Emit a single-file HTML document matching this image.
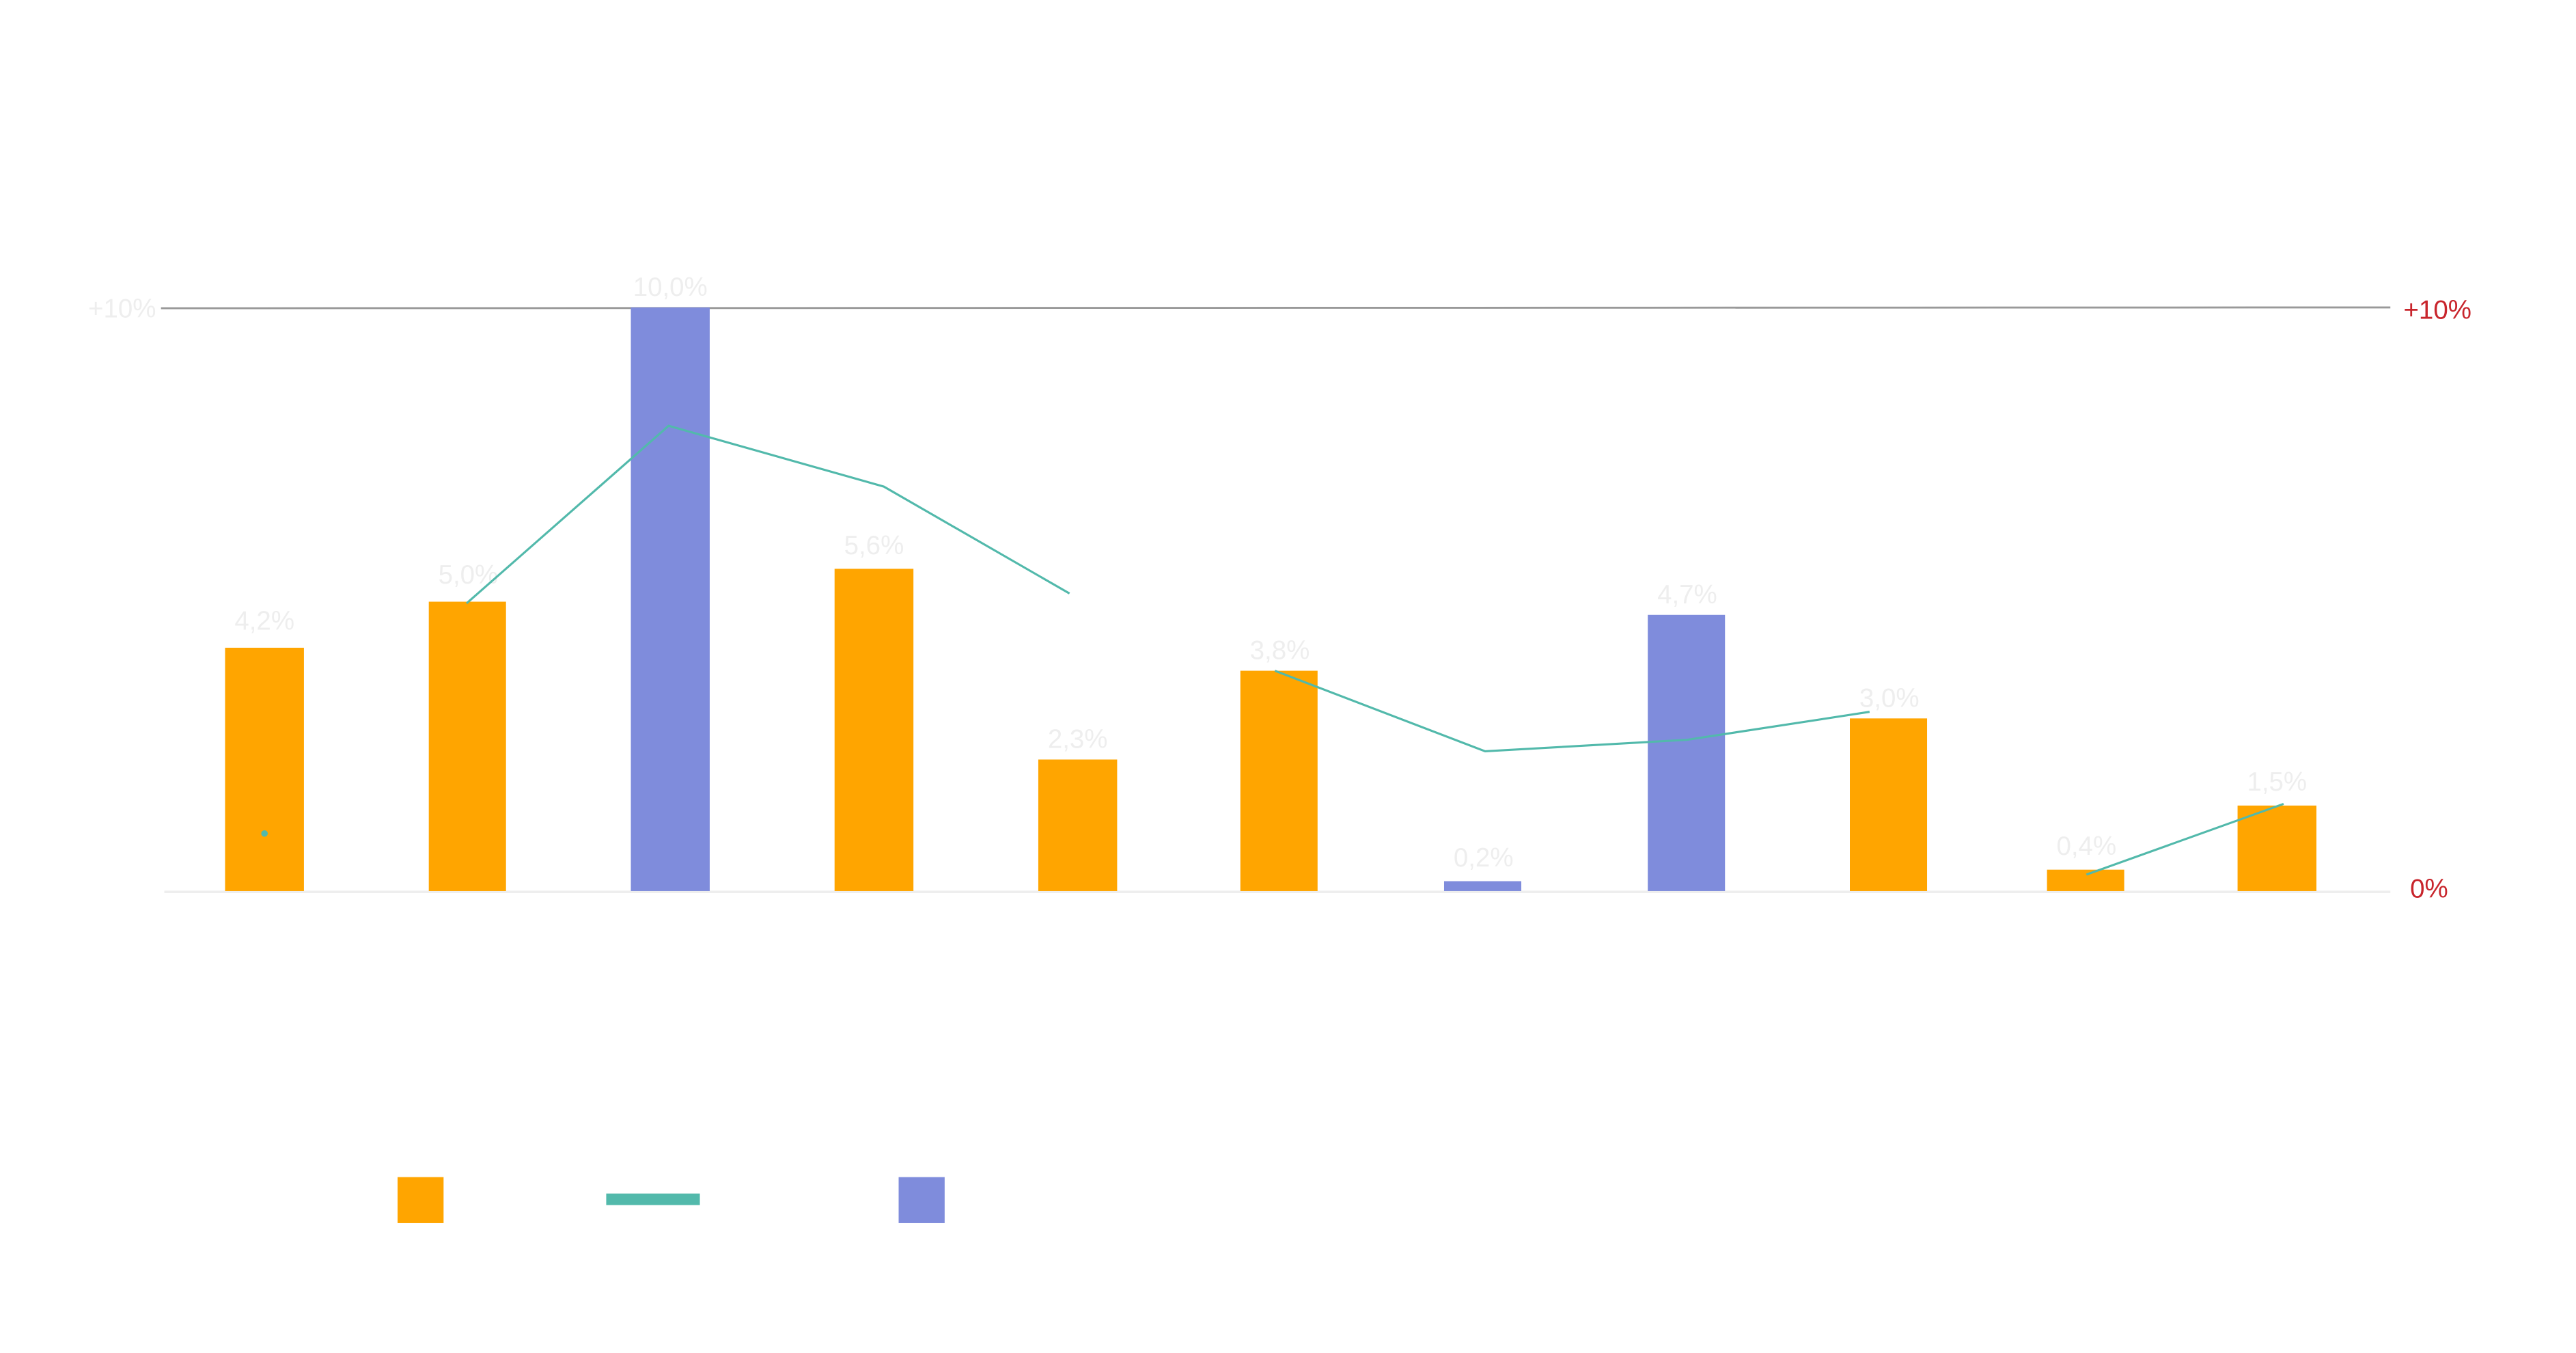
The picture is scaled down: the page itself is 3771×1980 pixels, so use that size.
<!DOCTYPE html>
<html><head><meta charset="utf-8"><style>
html,body{margin:0;padding:0;background:#fff;width:3771px;height:1980px;overflow:hidden}
svg{display:block}
text{font-family:"Liberation Sans",sans-serif}
</style></head><body>
<svg width="3771" height="1980" viewBox="0 0 1568 823" preserveAspectRatio="none" xmlns="http://www.w3.org/2000/svg">
<rect width="1568" height="823" fill="#fff"/>
<line x1="100" y1="542.5" x2="1455" y2="542.5" stroke="#eeeeee" stroke-width="1.5"/>
<line x1="98" y1="187.5" x2="1455" y2="187" stroke="#999" stroke-width="1.2"/>
<text x="95" y="193" font-size="16" fill="#eeeeee" text-anchor="end">+10%</text>
<text x="1463" y="194" font-size="16" fill="#c8252c">+10%</text>
<text x="1467" y="546" font-size="16" fill="#c8252c">0%</text>
<g>
<rect x="137" y="394" width="48" height="148" fill="#ffa500"/>
<rect x="261" y="366" width="47" height="176" fill="#ffa500"/>
<rect x="384" y="187" width="48" height="355" fill="#7f8cdc"/>
<rect x="508" y="346" width="48" height="196" fill="#ffa500"/>
<rect x="632" y="462" width="48" height="80" fill="#ffa500"/>
<rect x="755" y="408" width="47" height="134" fill="#ffa500"/>
<rect x="879" y="536" width="47" height="6" fill="#7f8cdc"/>
<rect x="1003" y="374" width="47" height="168" fill="#7f8cdc"/>
<rect x="1126" y="437" width="47" height="105" fill="#ffa500"/>
<rect x="1246" y="529" width="47" height="13" fill="#ffa500"/>
<rect x="1362" y="490" width="48" height="52" fill="#ffa500"/>
</g>
<g font-size="16" fill="#eeeeee" text-anchor="middle">
<text x="161" y="383">4,2%</text>
<text x="285" y="355">5,0%</text>
<text x="408" y="180">10,0%</text>
<text x="532" y="337">5,6%</text>
<text x="656" y="455">2,3%</text>
<text x="779" y="401">3,8%</text>
<text x="903" y="527">0,2%</text>
<text x="1027" y="367">4,7%</text>
<text x="1150" y="430">3,0%</text>
<text x="1270" y="520">0,4%</text>
<text x="1386" y="481">1,5%</text>
</g>
<g fill="none" stroke="#52b9ab" stroke-width="1.3">
<polyline points="284,367 407,259 538,296 651,361"/>
<polyline points="776,408 904,457 1027,450 1138,433"/>
<polyline points="1270,532 1390,489"/>
</g>
<circle cx="161" cy="507" r="2" fill="#52b9ab"/>
<rect x="242" y="716" width="28" height="28" fill="#ffa500"/>
<rect x="369" y="726" width="57" height="7" fill="#52b9ab"/>
<rect x="547" y="716" width="28" height="28" fill="#7f8cdc"/>
</svg>
</body></html>
